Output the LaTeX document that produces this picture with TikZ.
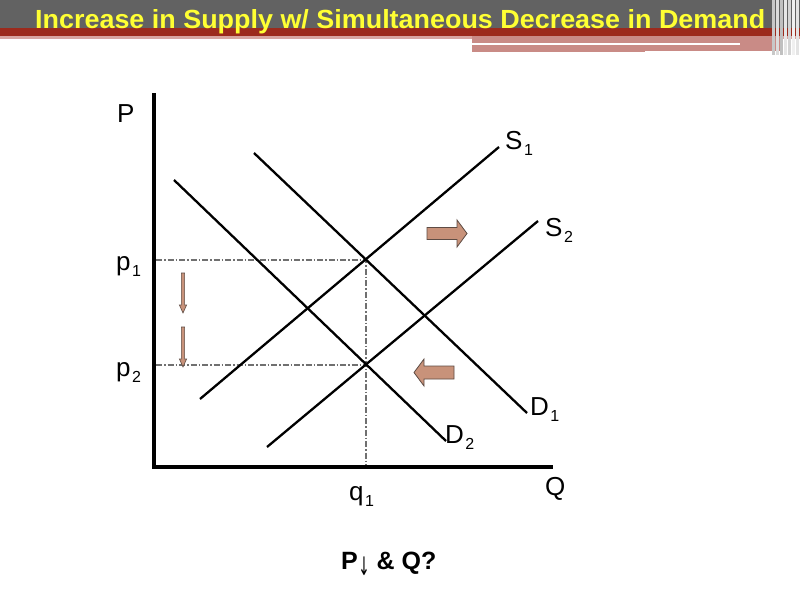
\documentclass[tikz,border=0pt]{standalone}
\usepackage{fontspec}
\setmainfont{Liberation Sans}
\newfontfamily\symfnt{DejaVu Sans}
\newcommand\sublbl[2]{#1\kern1.5pt\raisebox{-6pt}{\fontsize{16}{16}\selectfont #2}}
\definecolor{hdrgray}{HTML}{626262}
\definecolor{hdrred}{HTML}{9C2A1C}
\definecolor{hdrpink}{HTML}{D8A5A0}
\definecolor{hdrpink2}{HTML}{C98B86}
\definecolor{titleyellow}{HTML}{FFFF33}
\definecolor{arrfill}{HTML}{C8927A}
\definecolor{arrline}{HTML}{5E4C44}
\definecolor{guide}{HTML}{707070}
\tikzset{
  curve/.style={line width=2.3pt, black},
  axis/.style={line width=3.6pt, black},
  guideline/.style={guide, line width=1.1pt, dash pattern=on 6pt off 2pt on 1.5pt off 2pt},
  lbl/.style={anchor=base west, inner sep=0pt, font=\fontsize{26}{26}\selectfont},
  shiftarrow/.style={fill=arrfill, draw=arrline, line width=0.8pt, line join=miter},
}
\begin{document}
\begin{tikzpicture}[x=1pt,y=-1pt]
\useasboundingbox (0,0) rectangle (800,600);
\fill[white] (0,0) rectangle (800,600);
% header
\fill[hdrgray] (0,0) rectangle (800,28);
\fill[hdrred] (0,28) rectangle (800,36);
\fill[hdrpink] (0,36) rectangle (800,39);
\fill[hdrpink2] (472,36) rectangle (782,52);
\fill[white] (472,42.5) rectangle (740,45);
\fill[white] (645,51) rectangle (782,53);
\foreach \xx/\cc in {772/C8C8C8,776/DCDCDC,780/C0C0C0,784/E6E6E6,788/D4D4D4,792/F0F0F0,796/E4E4E4}{
  \definecolor{tmpc}{HTML}{\cc}
  \fill[tmpc] (\xx,0) rectangle ++(3,55);
}
\node[anchor=base west, inner sep=0pt, text=titleyellow] (title) at (35,28)
  {\resizebox{730pt}{19pt}{\bfseries Increase in Supply w/ Simultaneous Decrease in Demand}};
% axes
\coordinate (otop) at (154,93);
\coordinate (orig) at (154,467);
\coordinate (oright) at (553,467);
\draw[axis] (otop) -- (orig) -- (oright);
% curves
\coordinate (d1a) at (254,153); \coordinate (d1b) at (527,413);
\coordinate (d2a) at (174,180); \coordinate (d2b) at (446,441);
\coordinate (s1a) at (200,399); \coordinate (s1b) at (499,147);
\coordinate (s2a) at (267,447); \coordinate (s2b) at (538,221);
% guide lines
\coordinate (e1) at (366,260);
\coordinate (e2) at (366,365);
\coordinate (p1ax) at (156,260);
\coordinate (p2ax) at (156,365);
\coordinate (q1ax) at (366,465);
\draw[guideline] (p1ax) -- (e1) -- (q1ax);
\draw[guideline] (p2ax) -- (e2);
\draw[curve] (d1a) -- (d1b);
\draw[curve] (d2a) -- (d2b);
\draw[curve] (s1a) -- (s1b);
\draw[curve] (s2a) -- (s2b);
% shift arrows
\draw[shiftarrow] (427,227.5) -- (457,227.5) -- (457,220) -- (467,233.5) -- (457,247) -- (457,239.5) -- (427,239.5) -- cycle;
\draw[shiftarrow] (454,366) -- (424,366) -- (424,359) -- (414,372.5) -- (424,386) -- (424,379) -- (454,379) -- cycle;
\draw[shiftarrow, line width=0.6pt] (181.4,273) -- (184.6,273) -- (184.6,305) -- (186.6,305) -- (183,313) -- (179.4,305) -- (181.4,305) -- cycle;
\draw[shiftarrow, line width=0.6pt] (181.4,327) -- (184.6,327) -- (184.6,359) -- (186.6,359) -- (183,367) -- (179.4,359) -- (181.4,359) -- cycle;
% labels
\node[lbl] (P) at (117,122) {P};
\node[lbl] (Q) at (545,495) {Q};
\node[lbl] (S1) at (505,149) {\sublbl{S}{1}};
\node[lbl] (S2) at (545,236) {\sublbl{S}{2}};
\node[lbl] (D1) at (530,415) {\sublbl{D}{1}};
\node[lbl] (D2) at (445,443) {\sublbl{D}{2}};
\node[lbl] (p1) at (116,270) {\sublbl{p}{1}};
\node[lbl] (p2) at (116,376) {\sublbl{p}{2}};
\node[lbl] (q1) at (349,500) {\sublbl{q}{1}};
\node[anchor=base west, inner sep=0pt, font=\fontsize{25}{25}\selectfont\bfseries] (result) at (341,569)
  {P\kern0.5pt\raisebox{-6pt}{\symfnt\mdseries\scalebox{0.8}[1.5]{\fontsize{17}{17}\selectfont ↓}} \& Q?};
\end{tikzpicture}
\end{document}
